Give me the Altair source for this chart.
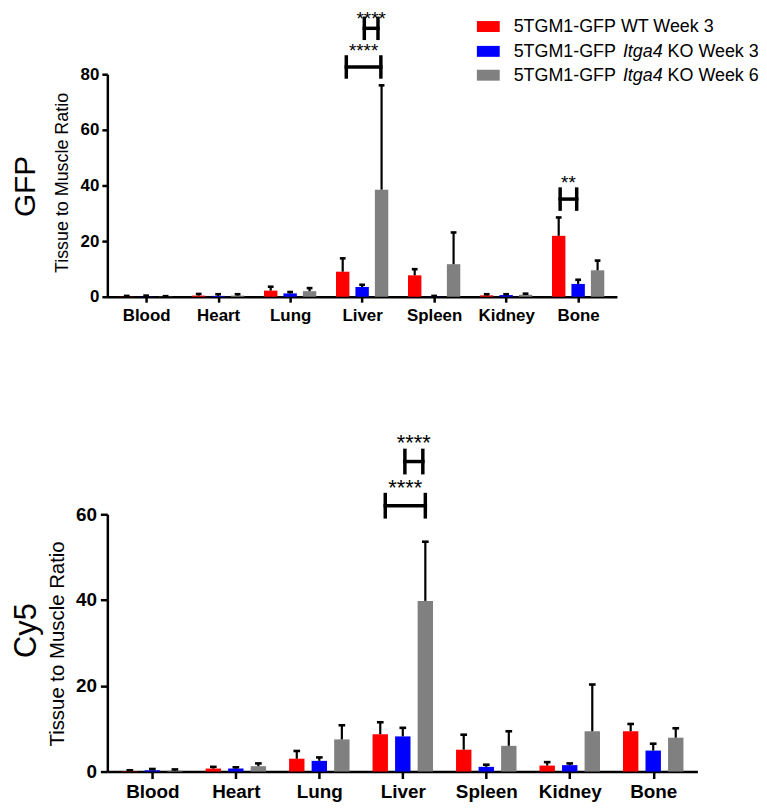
import altair as alt
import pandas as pd

# ---------------- data ----------------
organs = ["Blood", "Heart", "Lung", "Liver", "Spleen", "Kidney", "Bone"]
groups = ["5TGM1-GFP WT Week 3", "5TGM1-GFP Itga4 KO Week 3", "5TGM1-GFP Itga4 KO Week 6"]
colors = ["#FF0000", "#0000FF", "#808080"]

# GFP panel: means and SD (upward error bars)
gfp_wt3 = [0.1, 0.4, 2.2, 9.0, 7.7, 0.5, 21.9]
gfp_ko3 = [0.1, 0.3, 1.2, 3.5, 0.1, 0.6, 4.6]
gfp_ko6 = [0.1, 0.4, 2.0, 38.5, 11.7, 0.7, 9.5]
gfp_wt3_sd = [0.2, 0.6, 1.4, 4.8, 2.2, 0.4, 6.6]
gfp_ko3_sd = [0.3, 0.6, 0.5, 0.8, 0.2, 0.3, 1.5]
gfp_ko6_sd = [0.1, 0.5, 1.1, 37.5, 11.4, 0.4, 3.5]

# Cy5 panel
cy5_wt3 = [0.1, 0.7, 3.0, 8.7, 5.1, 1.4, 9.4]
cy5_ko3 = [0.3, 0.7, 2.5, 8.2, 1.1, 1.5, 4.9]
cy5_ko6 = [0.2, 1.25, 7.5, 39.8, 6.0, 9.4, 7.9]
cy5_wt3_sd = [0.2, 0.4, 1.8, 2.8, 3.5, 0.8, 1.7]
cy5_ko3_sd = [0.3, 0.3, 0.8, 2.0, 0.5, 0.4, 1.6]
cy5_ko6_sd = [0.3, 0.65, 3.3, 13.8, 3.4, 10.9, 2.2]

# significance brackets (x in category units, y in data units)
gfp_br_x1 = [2.78, 3.03, 5.75]
gfp_br_x2 = [3.26, 3.22, 5.98]
gfp_br_y = [82.6, 96.5, 35.1]
gfp_br_lab = ["****", "****", "**"]

cy5_br_x1 = [2.79, 3.025]
cy5_br_x2 = [3.27, 3.24]
cy5_br_y = [62.0, 72.3]
cy5_br_lab = ["****", "****"]

# ---------------- helpers ----------------
FONT = "Liberation Sans"
offsets = [-0.27, 0.0, 0.27]
label_expr = "[" + ",".join("'%s'" % o for o in organs) + "][datum.value]"


def bar_df(means, sds):
    rows = []
    for g, (ms, ss) in enumerate(zip(means, sds)):
        for i, organ in enumerate(organs):
            x = i + offsets[g]
            rows.append(dict(organ=organ, group=groups[g], x=x, mean=ms[i],
                             upper=ms[i] + ss[i], cl=x - 0.04, cr=x + 0.04))
    return pd.DataFrame(rows)


def bracket_df(x1s, x2s, ys, half):
    segs = []
    for a, b, y in zip(x1s, x2s, ys):
        segs.append(dict(x=a, x2=b, y=y, y2=y))
        segs.append(dict(x=a, x2=a, y=y - half, y2=y + half))
        segs.append(dict(x=b, x2=b, y=y - half, y2=y + half))
    return pd.DataFrame(segs)


def label_df(x1s, x2s, ys, labs, half):
    return pd.DataFrame([dict(x=(a + b) / 2, y=y + half, t=t)
                         for a, b, y, t in zip(x1s, x2s, ys, labs)])


def panel(name, means, sds, br, ymax, yvals, width, height, xmin,
          barsize, fs, tick, lpad_x, lpad_y, tfs, title_x, title_y,
          name_x, name_y, name_fs, star_fs, half, top_nudge):
    df = bar_df(means, sds)
    xs = alt.Scale(domain=[xmin, 6.47], nice=False, zero=False)
    ys = alt.Scale(domain=[0, ymax], nice=False, zero=True)
    xaxis = alt.Axis(values=list(range(7)), labelExpr=label_expr, title=None,
                     grid=False, tickSize=tick, tickWidth=2.5, domainWidth=2.5,
                     domainColor="black", tickColor="black", labelColor="black",
                     labelFont=FONT, labelFontSize=fs, labelFontWeight="bold",
                     labelPadding=lpad_x, labelFlush=False, labelOverlap=False)
    yaxis = alt.Axis(values=yvals, title="Tissue to Muscle Ratio", grid=False,
                     tickSize=tick, tickWidth=2.5, domainWidth=2.5,
                     domainColor="black", tickColor="black", labelColor="black",
                     labelFont=FONT, labelFontSize=fs, labelFontWeight="bold",
                     labelPadding=lpad_y, labelFlush=False,
                     titleFont=FONT, titleFontSize=tfs, titleFontWeight="normal",
                     titleColor="black", titleAngle=270, titleAlign="center",
                     titleBaseline="middle", titleX=title_x, titleY=title_y)

    bars = alt.Chart(df).mark_bar(size=barsize).encode(
        x=alt.X("x:Q", scale=xs, axis=xaxis),
        y=alt.Y("mean:Q", scale=ys, axis=yaxis),
        color=alt.Color("group:N", scale=alt.Scale(domain=groups, range=colors),
                        legend=None),
    )
    err = alt.Chart(df).mark_rule(color="black", strokeWidth=2.2).encode(
        x="x:Q", y="mean:Q", y2="upper:Q")
    caps = alt.Chart(df).mark_rule(color="black", strokeWidth=2.6).encode(
        x="cl:Q", x2="cr:Q", y="upper:Q")

    x1s, x2s, bys, labs = br
    segs = alt.Chart(bracket_df(x1s, x2s, bys, half)).mark_rule(
        color="black", strokeWidth=3.5, strokeCap="square").encode(
        x="x:Q", x2="x2:Q", y="y:Q", y2="y2:Q")
    ldf = label_df(x1s, x2s, bys, labs, half)
    top_i = ldf["y"].idxmax()
    stars = alt.Chart(ldf.drop(index=top_i)).mark_text(
        font=FONT, fontSize=star_fs, color="black", baseline="alphabetic",
        align="center").encode(x="x:Q", y="y:Q", text="t:N")
    stars_top = alt.Chart(ldf.loc[[top_i]]).mark_text(
        font=FONT, fontSize=star_fs, color="black", baseline="alphabetic",
        align="center", dy=top_nudge).encode(x="x:Q", y="y:Q", text="t:N")

    nm = alt.Chart(pd.DataFrame({"k": [0]})).mark_text(
        font=FONT, fontSize=name_fs, color="black", angle=270,
        align="center", baseline="middle", text=name).encode(
        x=alt.value(name_x), y=alt.value(name_y))

    layers = [bars, err, caps, segs, stars, stars_top, nm]
    return layers, width, height


top_layers, tw, th = panel(
    "GFP", [gfp_wt3, gfp_ko3, gfp_ko6], [gfp_wt3_sd, gfp_ko3_sd, gfp_ko6_sd],
    (gfp_br_x1, gfp_br_x2, gfp_br_y, gfp_br_lab), 80, [0, 20, 40, 60, 80],
    513, 224, -0.47, 13.5, 17, 5.5, 5, 3, 18, -45, 109, -82, 113, 30, 19, 3.6, 7)

# legend (top panel), manual so that "Itga4" can be italic
legend_rows = [(-47, "5TGM1-GFP", "", "WT Week 3"),
               (-22, "5TGM1-GFP", "Itga4", "KO Week 3"),
               (2, "5TGM1-GFP", "Itga4", "KO Week 6")]
one = pd.DataFrame({"k": [0]})
LX = 409
for i, (ry, pre, ital, suf) in enumerate(legend_rows):
    top_layers.append(alt.Chart(one).mark_rect(color=colors[i]).encode(
        x=alt.value(372), x2=alt.value(395), y=alt.value(ry - 6.5), y2=alt.value(ry + 4.5)))
    top_layers.append(alt.Chart(one).mark_text(
        font=FONT, fontSize=18, color="black", align="left", baseline="middle",
        text=pre).encode(x=alt.value(LX), y=alt.value(ry)))
    if ital:
        top_layers.append(alt.Chart(one).mark_text(
            font=FONT, fontSize=18, fontStyle="italic", color="black", align="left",
            baseline="middle", text=ital).encode(x=alt.value(LX + 110), y=alt.value(ry)))
        top_layers.append(alt.Chart(one).mark_text(
            font=FONT, fontSize=18, color="black", align="left", baseline="middle",
            text=suf).encode(x=alt.value(LX + 155), y=alt.value(ry)))
    else:
        top_layers.append(alt.Chart(one).mark_text(
            font=FONT, fontSize=18, color="black", align="left", baseline="middle",
            text=suf).encode(x=alt.value(LX + 108), y=alt.value(ry)))

bot_layers, bw, bh = panel(
    "Cy5", [cy5_wt3, cy5_ko3, cy5_ko6], [cy5_wt3_sd, cy5_ko3_sd, cy5_ko6_sd],
    (cy5_br_x1, cy5_br_x2, cy5_br_y, cy5_br_lab), 60, [0, 20, 40, 60],
    594, 259, -0.48, 15.5, 19, 7, 4, 4, 20.5, -50, 130, -81, 117, 31, 22, 2.6, 0)

top = alt.layer(*top_layers).properties(width=tw, height=th)
bot = alt.layer(*bot_layers).properties(width=bw, height=bh)

chart = alt.vconcat(top, bot, spacing=109).properties(
    padding={"left": 3, "top": -1, "right": 0, "bottom": 0},
    background="white",
).configure_view(strokeWidth=0)

chart.save("out.html", embed_options={"renderer": "svg", "actions": False})
